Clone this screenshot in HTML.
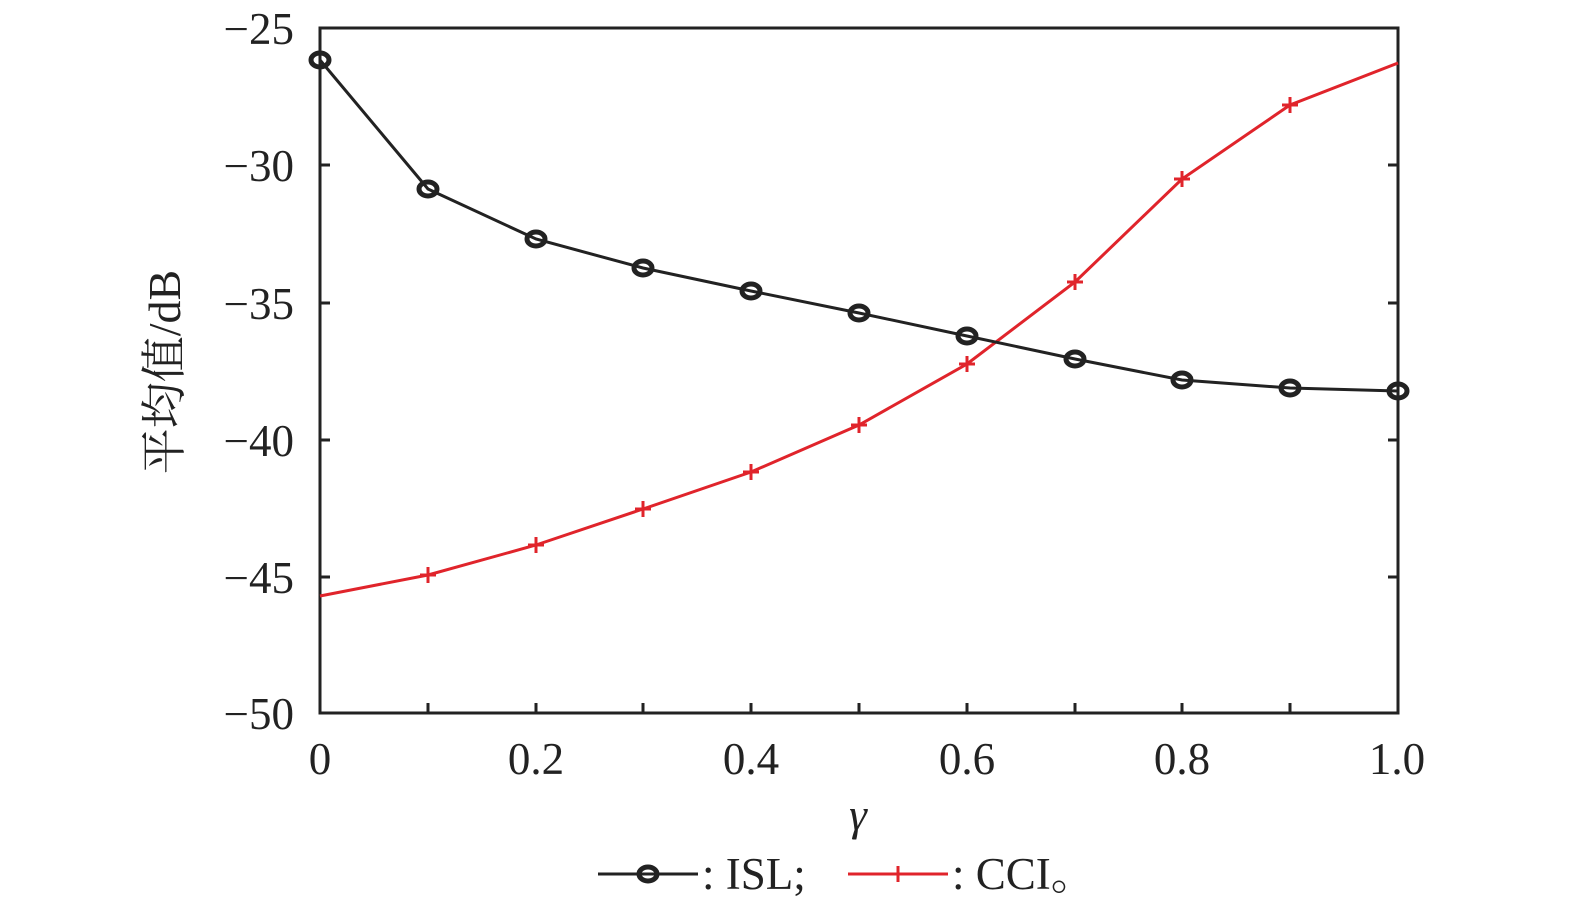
<!DOCTYPE html><html><head><style>body{margin:0;background:#fff}svg text{font-family:"Liberation Serif","Noto Serif CJK SC",serif;fill:#222}</style></head><body>
<svg width="1575" height="907" xmlns="http://www.w3.org/2000/svg">
<g stroke="#222" stroke-width="3" fill="none">
<rect x="320" y="28" width="1078" height="685"/>
<path d="M320 165h10M320 303h10M320 440h10M320 577h10M1398 165h-10M1398 303h-10M1398 440h-10M1398 577h-10M428 713v-10M536 713v-10M643 713v-10M751 713v-10M859 713v-10M967 713v-10M1075 713v-10M1182 713v-10M1290 713v-10"/>
</g>
<g font-size="45" text-anchor="end">
<text x="294" y="44">−25</text><text x="294" y="181">−30</text><text x="294" y="319">−35</text><text x="294" y="456">−40</text><text x="294" y="593">−45</text><text x="294" y="729">−50</text>
</g>
<g font-size="45" text-anchor="middle">
<text x="320" y="774">0</text><text x="536" y="774">0.2</text><text x="751" y="774">0.4</text><text x="967" y="774">0.6</text><text x="1182" y="774">0.8</text><text x="1397" y="774">1.0</text>
<text x="858" y="830" font-style="italic">γ</text>
</g>
<text transform="translate(180,372) rotate(-90)" font-size="46" text-anchor="middle">平均值/dB</text>
<polyline fill="none" stroke="#e0242b" stroke-width="3" points="320,596 428,575 536,545 643,509 751,472 859,425 967,364 1075,282 1182,179 1290,105 1398,63"/>
<g stroke="#e0242b" stroke-width="3">
<path d="M420 575h16M428 567v16M528 545h16M536 537v16M635 509h16M643 501v16M743 472h16M751 464v16M851 425h16M859 417v16M959 364h16M967 356v16M1067 282h16M1075 274v16M1174 179h16M1182 171v16M1282 105h16M1290 97v16"/>
</g>
<polyline fill="none" stroke="#222" stroke-width="3" points="320,60 428,189 536,239 643,268 751,291 859,313 967,336 1075,359 1182,380 1290,388 1398,391"/>
<g fill="none" stroke="#222" stroke-width="5">
<ellipse cx="320" cy="60" rx="9" ry="7"/><ellipse cx="428" cy="189" rx="9" ry="7"/><ellipse cx="536" cy="239" rx="9" ry="7"/><ellipse cx="643" cy="268" rx="9" ry="7"/><ellipse cx="751" cy="291" rx="9" ry="7"/><ellipse cx="859" cy="313" rx="9" ry="7"/><ellipse cx="967" cy="336" rx="9" ry="7"/><ellipse cx="1075" cy="359" rx="9" ry="7"/><ellipse cx="1182" cy="380" rx="9" ry="7"/><ellipse cx="1290" cy="388" rx="9" ry="7"/><ellipse cx="1398" cy="391" rx="9" ry="7"/>
<ellipse cx="648" cy="874" rx="9" ry="7"/>
</g>
<path d="M598 874h100" stroke="#222" stroke-width="3"/>
<path d="M848 874h100M898 866v16" stroke="#e0242b" stroke-width="3"/>
<text x="702" y="889" font-size="45">: ISL;</text>
<text x="952" y="889" font-size="45">: CCI。</text>
</svg></body></html>
